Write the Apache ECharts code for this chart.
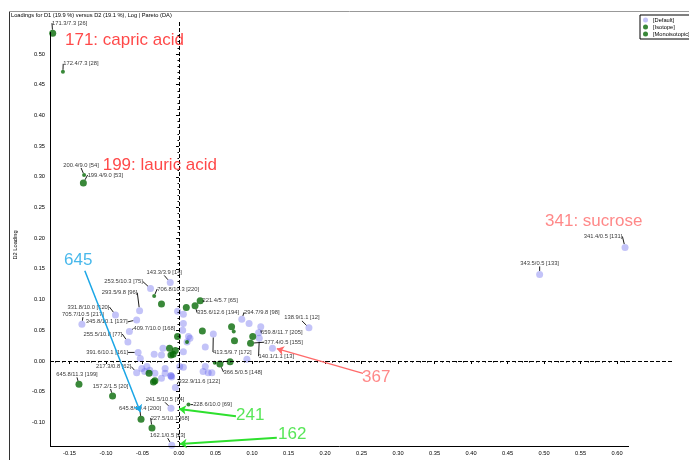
<!DOCTYPE html>
<html><head><meta charset="utf-8">
<script src="https://cdn.jsdelivr.net/npm/echarts@6/dist/echarts.min.js"></script>
<style>html,body{margin:0;padding:0;background:#fff}#c{width:689px;height:460px}</style>
</head><body><div id="c"></div>
<script>
// ---------------- data ----------------
const TITLE = 'Loadings for D1 (19.9 %) versus D2 (19.1 %), Log | Pareto (DA)';
const X_NAME = 'D1 Loading';
const Y_NAME = 'D2 Loading';
const X_TICKS = [-0.15,-0.10,-0.05,0.00,0.05,0.10,0.15,0.20,0.25,0.30,0.35,0.40,0.45,0.50,0.55,0.60];
const Y_TICKS = [-0.10,-0.05,0.00,0.05,0.10,0.15,0.20,0.25,0.30,0.35,0.40,0.45,0.50];
const SERIES_NAMES = ['[Default]','[Isotope]','[Monoisotopic]'];

// [Default]
const DEF_LABELS = ['143.3/3.9 [14]','253.5/10.3 [75]','293.5/9.8 [96]','331.8/10.0 [120]','705.7/10.5 [217]',
  '345.8/10.1 [137]','409.7/10.0 [168]','255.5/10.8 [77]','391.6/10.1 [161]','217.3/0.8 [62]',
  '413.5/9.7 [172]','294.7/9.8 [98]','659.8/11.7 [205]','140.1/1.1 [13]','138.9/1.1 [12]',
  '341.4/0.5 [131]','343.5/0.5 [133]','332.9/11.6 [122]','241.5/10.5 [74]','162.1/0.5 [23]',
  '','','','','','','','','','','','','','','','','','','','','','','','','','','','','','','','','',''];
const DEF_X = [-0.012,-0.039,-0.054,-0.087,-0.133,-0.058,-0.068,-0.070,-0.056,-0.058,
  0.047,0.086,0.112,0.110,0.178,0.611,0.494,-0.005,-0.011,-0.010,
  -0.002,0.006,0.006,0.005,0.015,0.011,0.036,0.006,-0.022,-0.034,-0.024,0.036,-0.053,-0.044,
  -0.040,-0.047,-0.033,-0.019,0.001,-0.051,-0.019,-0.024,0.006,0.040,0.045,0.013,0.093,0.096,
  0.109,0.128,0.033,-0.011,-0.011,-0.010];
const DEF_Y = [0.128,0.118,0.082,0.075,0.060,0.067,0.048,0.031,0.014,-0.019,
  0.044,0.068,0.056,0.037,0.054,0.185,0.141,-0.043,-0.077,-0.137,
  0.081,0.076,0.061,0.050,0.037,0.031,0.023,0.015,0.021,0.011,0.010,-0.009,0.004,-0.009,
  -0.015,-0.017,-0.020,-0.012,-0.009,-0.012,-0.020,-0.028,-0.010,-0.019,-0.019,0.040,0.003,0.061,
  0.046,0.021,-0.017,-0.024,-0.024,-0.026];

// [Isotope]
const ISO_LABELS = ['172.4/7.3 [28]','200.4/9.0 [54]','706.8/10.3 [220]','228.6/10.0 [69]','','',''];
const ISO_X = [-0.159,-0.130,-0.034,0.013,0.075,0.049,0.011];
const ISO_Y = [0.471,0.303,0.106,-0.071,0.048,-0.003,0.031];

// [Monoisotopic]
const MONO_LABELS = ['171.3/7.3 [26]','199.4/9.0 [53]','221.4/5.7 [65]','335.6/12.6 [194]','366.5/0.5 [148]',
  '377.4/0.5 [155]','645.8/11.3 [199]','157.2/1.5 [20]','645.8/10.4 [200]','227.5/10.1 [68]',
  '','','','','','','','','','','','','','',''];
const MONO_X = [-0.173,-0.131,0.029,0.022,0.056,0.098,-0.137,-0.091,-0.052,-0.037,
  0.010,0.072,0.076,0.101,0.032,-0.002,-0.005,-0.008,-0.013,-0.011,0.070,-0.041,-0.035,-0.033,-0.024];
const MONO_Y = [0.534,0.290,0.098,0.090,-0.005,0.029,-0.038,-0.057,-0.095,-0.109,
  0.087,0.056,0.033,0.040,0.049,0.040,0.017,0.011,0.021,0.010,-0.001,-0.020,-0.034,-0.032,0.093];

// annotations
const NOTE_TEXT = ['171: capric acid','199: lauric acid','341: sucrose','645','367','241','162'];
const NOTE_X = [-0.1562,-0.1045,0.5014,-0.1575,0.2507,0.0781,0.1356];
const NOTE_Y = [0.5228,0.3192,0.2280,0.1645,-0.0261,-0.0879,-0.1189];
const ARROW_X1 = [-0.129,0.252,0.078,0.134];
const ARROW_Y1 = [0.147,-0.020,-0.090,-0.125];
const ARROW_X2 = [-0.053,0.134,0.000,0.001];
const ARROW_Y2 = [-0.083,0.020,-0.078,-0.135];

// ---------------- layout / style ----------------
const XMIN = -0.1767, XMAX = 0.6753, YMIN = -0.1384, YMAX = 0.5554;
const X_AXIS_END = 0.6164, Y_AXIS_END = 0.5358;
const FONT = 'Liberation Sans';
const NOTE_COLORS = ['#ff1a1a','#ff1a1a','#ff6a6a','#1aa6e6','#ff6a6a','#2ee02e','#2ee02e'];
const ARROW_COLORS = ['#1aa6e6','#ff6a6a','#2ee02e','#2ee02e'];
const ARROW_WIDTHS = [1.5,1.3,2,2];
const LABEL_OFFSETS = {
  '171.3/7.3 [26]':[17,-10],'172.4/7.3 [28]':[18,-8],'200.4/9.0 [54]':[-3,-10],'199.4/9.0 [53]':[22,-8],
  '706.8/10.3 [220]':[24,-7],'221.4/5.7 [65]':[20,0],'335.6/12.6 [194]':[23,7],'366.5/0.5 [148]':[23,8],
  '377.4/0.5 [155]':[33,-1],'645.8/11.3 [199]':[-2,-10],'157.2/1.5 [20]':[-2,-10],'645.8/10.4 [200]':[-1,-11],
  '227.5/10.1 [68]':[18,-10],'228.6/10.0 [69]':[24,0],'143.3/3.9 [14]':[-6,-10],'253.5/10.3 [75]':[-27,-7],
  '293.5/9.8 [96]':[-20,-18],'331.8/10.0 [120]':[-27,-8],'705.7/10.5 [217]':[1,-10],'345.8/10.1 [137]':[-30,2],
  '409.7/10.0 [168]':[25,-3],'255.5/10.8 [77]':[-25,-8],'391.6/10.1 [161]':[-31,0],'217.3/0.8 [62]':[-23,-6],
  '413.5/9.7 [172]':[19,18],'294.7/9.8 [98]':[20,-7],'659.8/11.7 [205]':[21,6],'140.1/1.1 [13]':[17,18],
  '138.9/1.1 [12]':[-7,-10],'341.4/0.5 [131]':[-22,-11],'343.5/0.5 [133]':[0,-11],'332.9/11.6 [122]':[24,-6],
  '241.5/10.5 [74]':[-6,-9],'162.1/0.5 [23]':[-4,-10]
};

function minorTicks(a, b) { const out = []; for (let v = a; v <= b + 1e-9; v += 0.01) out.push(+v.toFixed(2)); return out; }
const makeData = (labels, xs, ys) => xs.map((x, i) => labels[i]
  ? { name: labels[i], value: [x, ys[i]] }
  : { name: '', value: [x, ys[i]], label: { show: false }, labelLine: { show: false } });

const pointLabel = { show: true, position: 'inside', formatter: '{b}', fontSize: 5.8, color: '#000', fontFamily: FONT };
const pointLine = { show: true, lineStyle: { color: '#000', width: 0.9 } };
const labelLayout = p => { const o = LABEL_OFFSETS[p.text]; return o ? { dx: o[0], dy: o[1] } : {}; };

const chart = echarts.init(document.getElementById('c'));
const option = {
  animation: false,
  textStyle: { fontFamily: FONT },
  title: { text: TITLE, left: 11, top: 12, padding: 0, textStyle: { fontSize: 5.7, fontWeight: 'normal', color: '#000', fontFamily: FONT } },
  legend: {
    data: SERIES_NAMES, orient: 'vertical', left: 640, top: 15, itemWidth: 5, itemHeight: 5, itemGap: 1,
    padding: [2, 3], borderColor: '#000', borderWidth: 1, icon: 'circle',
    textStyle: { fontSize: 5.7, lineHeight: 6, color: '#000', fontFamily: FONT }
  },
  graphic: [
    { type: 'line', shape: { x1: 10, y1: 11.5, x2: 689, y2: 11.5 }, style: { stroke: '#999', lineWidth: 1 } },
    { type: 'line', shape: { x1: 9.5, y1: 11.5, x2: 9.5, y2: 460 }, style: { stroke: '#333', lineWidth: 1 } }
  ],
  grid: { left: 50, right: 17, top: 20, bottom: 14, containLabel: false, outerBoundsMode: 'none' },
  xAxis: [
    { type: 'value', min: XMIN, max: XMAX, position: 'bottom',
      name: X_NAME, nameLocation: 'middle', nameGap: 15,
      nameTextStyle: { fontSize: 5.7, color: '#000', padding: [0, 50, 0, 0] },
      axisLine: { show: false }, splitLine: { show: false },
      axisTick: { show: true, length: 3, customValues: X_TICKS, lineStyle: { color: '#000' } },
      axisLabel: { customValues: X_TICKS, formatter: v => v.toFixed(2), fontSize: 5.7, color: '#000', margin: 4 } },
    { type: 'value', min: XMIN, max: XMAX, position: 'bottom', gridIndex: 0,
      axisLine: { show: false }, splitLine: { show: false }, axisLabel: { show: false },
      axisTick: { show: true, length: 1.5, customValues: minorTicks(-0.17, 0.61), lineStyle: { color: '#000' } } }
  ],
  yAxis: [
    { type: 'value', min: YMIN, max: YMAX, position: 'left',
      name: Y_NAME, nameLocation: 'middle', nameGap: 32, nameRotate: 90,
      nameTextStyle: { fontSize: 5.7, color: '#000', padding: [0, 24, 0, 0] },
      axisLine: { show: false }, splitLine: { show: false },
      axisTick: { show: true, length: 3, customValues: Y_TICKS, lineStyle: { color: '#000' } },
      axisLabel: { customValues: Y_TICKS, formatter: v => v.toFixed(2), fontSize: 5.7, color: '#000', margin: 5 } },
    { type: 'value', min: YMIN, max: YMAX, position: 'left', gridIndex: 0,
      axisLine: { show: false }, splitLine: { show: false }, axisLabel: { show: false },
      axisTick: { show: true, length: 1.5, customValues: minorTicks(-0.13, 0.53), lineStyle: { color: '#000' } } }
  ],
  series: [
    { name: 'decor', type: 'scatter', data: [], silent: true, z: 1,
      markLine: { silent: true, symbol: ['none', 'none'], label: { show: false }, animation: false,
        data: [
          [{ coord: [XMIN, YMIN] }, { coord: [X_AXIS_END, YMIN] }],
          [{ coord: [XMIN, YMIN] }, { coord: [XMIN, Y_AXIS_END] }],
          [{ coord: [0, YMIN], lineStyle: { type: [4, 2] } }, { coord: [0, YMAX] }],
          [{ coord: [XMIN, 0], lineStyle: { type: [4, 2] } }, { coord: [XMAX, 0] }]
        ],
        lineStyle: { color: '#000', width: 1, type: 'solid' } } },
    { name: SERIES_NAMES[0], type: 'scatter', symbolSize: 7, z: 2,
      itemStyle: { color: 'rgba(90,90,235,0.45)' },
      data: makeData(DEF_LABELS, DEF_X, DEF_Y), label: pointLabel, labelLine: pointLine, labelLayout },
    { name: SERIES_NAMES[1], type: 'scatter', symbolSize: 4, z: 3,
      itemStyle: { color: '#086a08' },
      data: makeData(ISO_LABELS, ISO_X, ISO_Y), label: pointLabel, labelLine: pointLine, labelLayout },
    { name: SERIES_NAMES[2], type: 'scatter', symbolSize: 7, z: 4,
      itemStyle: { color: '#086a08' },
      data: makeData(MONO_LABELS, MONO_X, MONO_Y), label: pointLabel, labelLine: pointLine, labelLayout },
    { name: 'arrows', type: 'scatter', data: [], silent: true, z: 5,
      markLine: { silent: true, symbol: ['none', 'arrow'], symbolSize: 7, label: { show: false }, animation: false,
        data: ARROW_X1.map((x, i) => [
          { coord: [x, ARROW_Y1[i]], lineStyle: { color: ARROW_COLORS[i], width: ARROW_WIDTHS[i], type: 'solid' }, itemStyle: { color: ARROW_COLORS[i] } },
          { coord: [ARROW_X2[i], ARROW_Y2[i]] }
        ]) } },
    { name: 'notes', type: 'scatter', symbolSize: 0, silent: true, z: 6,
      data: NOTE_TEXT.map((t, i) => ({ name: t, value: [NOTE_X[i], NOTE_Y[i]],
        label: { color: NOTE_COLORS[i] } })),
      label: { show: true, position: 'right', distance: 0, formatter: '{b}', fontSize: 17, fontFamily: FONT } }
  ]
};
chart.setOption(option);
</script></body></html>
